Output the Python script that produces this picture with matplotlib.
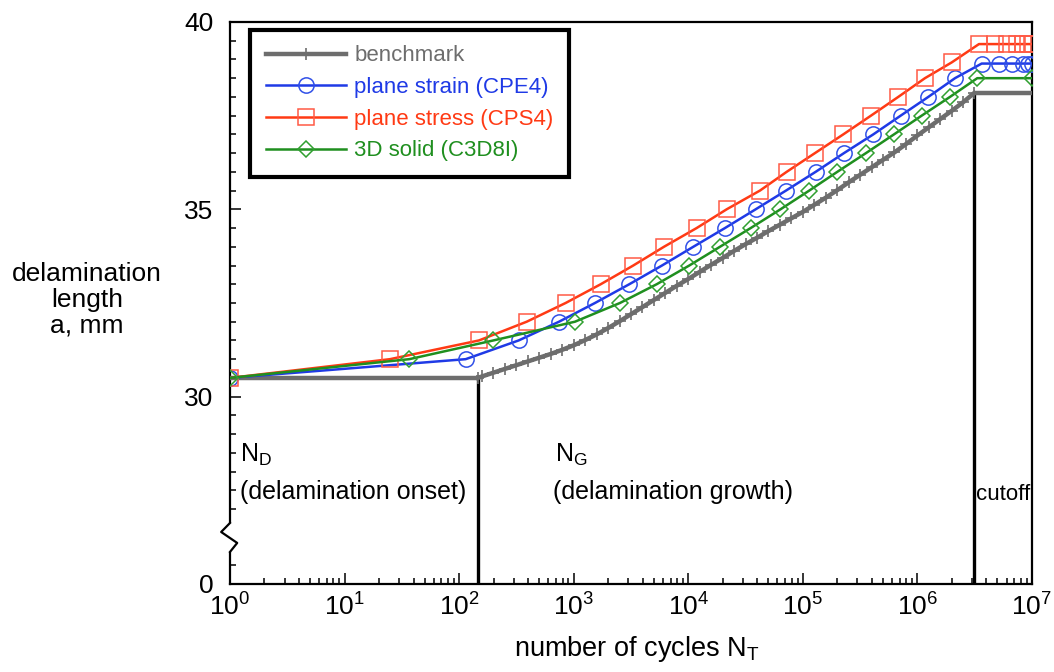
import numpy as np
import matplotlib.pyplot as plt
from matplotlib.lines import Line2D
from matplotlib.patches import Rectangle

plt.rcParams['font.family'] = ['Liberation Sans', 'DejaVu Sans']
plt.rcParams['mathtext.default'] = 'regular'

# benchmark: onset, growth curve, cutoff
N_onset = 146
a_onset = 30.5
N_cut = 3.12e6
a_cut = 38.1
N_end = 1e7
bench_logN = [2.165, 2.2, 2.3, 2.4, 2.5, 2.6, 2.7, 2.8, 2.9, 3.0, 3.1, 3.2, 3.3, 3.4,
              3.5, 3.6, 3.7, 3.8, 3.9, 4.0, 4.1, 4.2, 4.3, 4.4, 4.5, 4.6, 4.7, 4.8,
              4.9, 5.0, 5.1, 5.2, 5.3, 5.4, 5.5, 5.6, 5.7, 5.8, 5.9, 6.0, 6.1, 6.2,
              6.3, 6.4, 6.494]
bench_a = [30.50, 30.54, 30.64, 30.74, 30.84, 30.94, 31.04, 31.14, 31.25, 31.37, 31.51,
           31.66, 31.83, 32.01, 32.20, 32.39, 32.58, 32.77, 32.96, 33.14, 33.33, 33.52,
           33.70, 33.89, 34.07, 34.24, 34.42, 34.59, 34.76, 34.93, 35.12, 35.31, 35.51,
           35.72, 35.92, 36.12, 36.32, 36.52, 36.74, 36.97, 37.19, 37.41, 37.63, 37.86,
           38.10]

# plane strain (CPE4)
cpe4_N = [1, 114, 331, 745, 1535, 3056, 5899, 11070, 20920, 38740, 71300, 129400,
          228600, 412300, 714700, 1.245e6, 2.129e6, 3.64e6, 5.15e6, 6.65e6, 8.3e6,
          9.29e6, 1e7]
cpe4_a = [30.5, 31.0, 31.5, 32.0, 32.5, 33.0, 33.5, 34.0, 34.5, 35.0, 35.5, 36.0,
          36.5, 37.0, 37.5, 38.0, 38.5, 38.89, 38.89, 38.89, 38.89, 38.89, 38.89]

# plane stress (CPS4)
cps4_N = [1, 24.9, 149, 389, 851, 1721, 3311, 6138, 11840, 21640, 42250, 72260,
          127600, 225500, 393500, 680800, 1.164e6, 1.991e6, 3.446e6, 4.75e6, 6.01e6,
          7.35e6, 8.34e6, 9.29e6, 1e7]
cps4_a = [30.5, 31.0, 31.5, 32.0, 32.5, 33.0, 33.5, 34.0, 34.5, 35.0, 35.5, 36.0,
          36.5, 37.0, 37.5, 38.0, 38.5, 38.92, 39.41, 39.41, 39.41, 39.41, 39.41,
          39.41, 39.41]

# 3D solid (C3D8I)
c3d_N = [1, 36.7, 199, 1026, 2536, 5300, 10210, 18920, 35080, 63810, 113800, 199900,
         355600, 624800, 1.09e6, 1.925e6, 3.33e6, 1e7]
c3d_a = [30.5, 31.0, 31.5, 32.0, 32.5, 33.0, 33.5, 34.0, 34.5, 35.0, 35.5, 36.0,
         36.5, 37.0, 37.5, 38.0, 38.5, 38.5]

ytick_vals = [25, 30, 35, 40]
ytick_text = ['0', '30', '35', '40']

gray = '#6d6d6d'
blue = '#1f3ae6'
red = '#ff3a14'
green = '#1f8f1f'

fig = plt.figure(figsize=(10.54, 6.72), dpi=100)
ax = fig.add_axes([0.2182, 0.1310, 0.7609, 0.8363])

bench_N = np.power(10.0, bench_logN)
ax.plot([1, N_onset], [a_onset, a_onset], color=gray, lw=3.2, solid_capstyle='butt', zorder=3)
ax.plot([N_cut, N_end], [a_cut, a_cut], color=gray, lw=3.2, solid_capstyle='butt', zorder=3)
ax.plot(bench_N, bench_a, color=gray, lw=3.2, marker='+', ms=9, mew=1.2,
        label='benchmark', zorder=3)

ax.plot(cpe4_N, cpe4_a, color=blue, lw=1.8, marker='o', ms=11, mfc='none',
        mec='#3050e8', mew=1.1, label='plane strain (CPE4)', zorder=4)
ax.plot(cps4_N, cps4_a, color=red, lw=1.8, marker='s', ms=11, mfc='none',
        mec='#ff5a45', mew=1.1, label='plane stress (CPS4)', zorder=4)
ax.plot(c3d_N, c3d_a, color=green, lw=1.8, marker='D', ms=8.5, mfc='none',
        mec='#30a030', mew=1.1, label='3D solid (C3D8I)', zorder=4)

# onset and cutoff markers
ax.plot([N_onset, N_onset], [25, a_onset], color='black', lw=2.4, zorder=2)
ax.plot([N_cut, N_cut], [25, a_cut], color='black', lw=2.4, zorder=2)

ax.set_xscale('log')
ax.set_xlim(1, 1e7)
ax.set_ylim(25, 40)
ax.set_yticks(ytick_vals)
ax.set_yticklabels(ytick_text)
ax.set_yticks(np.arange(25, 40.01, 0.5), minor=True)

ax.tick_params(which='both', direction='in', left=True, bottom=True, top=False,
               right=False, width=1.1, color='black')
ax.tick_params(which='major', length=8, labelsize=19)
ax.tick_params(axis='y', which='major', pad=12)
ax.tick_params(axis='x', which='major', pad=7)
ax.tick_params(which='minor', length=4.5)
ax.yaxis.set_ticks_position('left')
ax.xaxis.set_ticks_position('bottom')

for s in ['top', 'right', 'bottom', 'left']:
    ax.spines[s].set_linewidth(1.6)
    ax.spines[s].set_color('black')

# break in the left axis between 0 and 30
ax.add_patch(Rectangle((-0.02, 0.057), 0.035, 0.0515, transform=ax.transAxes,
                       facecolor='white', edgecolor='none', clip_on=False, zorder=6))
brk = Line2D([0, 0.009, -0.011, 0], [0.057, 0.073, 0.0925, 0.1085],
             transform=ax.transAxes, color='black', lw=1.6, clip_on=False, zorder=7)
ax.add_line(brk)

ax.text(0.0125, 0.2295, 'N$_D$', fontsize=18, ha='left', va='center', transform=ax.transAxes)
ax.text(0.0125, 0.1637, '(delamination onset)', fontsize=18, ha='left', va='center',
        transform=ax.transAxes)
ax.text(0.405, 0.2295, 'N$_G$', fontsize=18, ha='left', va='center', transform=ax.transAxes)
ax.text(0.403, 0.1637, '(delamination growth)', fontsize=18, ha='left', va='center',
        transform=ax.transAxes)
ax.text(0.930, 0.160, 'cutoff', fontsize=16, ha='left', va='center', transform=ax.transAxes)

fig.text(0.0825, 0.5536, 'delamination\nlength\na, mm', fontsize=19, ha='center',
         va='center', linespacing=1.1)
fig.text(0.604, 0.034, 'number of cycles N$_T$', fontsize=19.5, ha='center', va='center')

leg = ax.legend(loc='upper left', bbox_to_anchor=(0.025, 0.986), borderaxespad=0,
                fontsize=16, numpoints=1, handlelength=3.6, handletextpad=0.4,
                labelspacing=0.48, fancybox=False, framealpha=1, labelcolor='linecolor',
                borderpad=0.7)
leg.get_frame().set_edgecolor('black')
leg.get_frame().set_linewidth(3)

fig.savefig('out.png', dpi=100)
